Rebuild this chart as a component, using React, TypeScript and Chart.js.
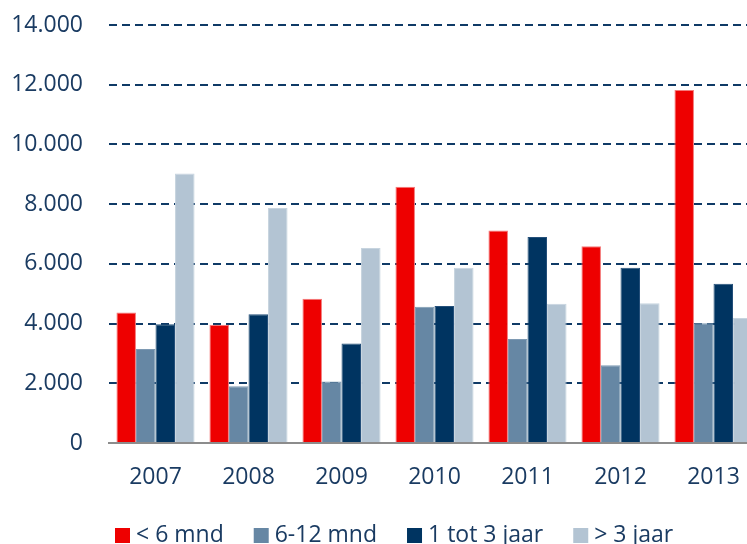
import React, { useEffect, useRef } from "react";
import { Chart, registerables } from "chart.js";

Chart.register(...registerables);

const categories = ["2007", "2008", "2009", "2010", "2011", "2012", "2013"];
const seriesNames = ["< 6 mnd", "6-12 mnd", "1 tot 3 jaar", "> 3 jaar"];
const lt6 = [4370, 3960, 4830, 8580, 7120, 6590, 11820];
const m6to12 = [3150, 1900, 2060, 4560, 3480, 2600, 4010];
const y1to3 = [3980, 4310, 3330, 4590, 6900, 5870, 5330];
const gt3 = [9030, 7870, 6530, 5870, 4660, 4680, 4190];
const yTicks = [0, 2000, 4000, 6000, 8000, 10000, 12000, 14000];

const colors = ["#EE0000", "#6687A4", "#003461", "#B3C4D3"];
const borders = ["#F47A7A", "#7E9AB3", "#25507A", "#C7D4DF"];
const textColor = "#1A3B62";
const FONT = "'Open Sans', 'Noto Sans', sans-serif";

const fmt = (v: number) => String(v).replace(/\B(?=(\d{3})+(?!\d))/g, ".");

const legendPlugin = {
  id: "customLegend",
  afterDraw(chart: any) {
    const ctx = chart.ctx;
    ctx.save();
    ctx.font = `23px ${FONT}`;
    ctx.textBaseline = "middle";
    ctx.textAlign = "left";
    const cy = 535.5;
    let x = 115;
    chart.data.datasets.forEach((ds: any) => {
      ctx.fillStyle = ds.backgroundColor;
      ctx.fillRect(x, cy - 7.5, 15, 15);
      ctx.fillStyle = textColor;
      ctx.fillText(ds.label, x + 21, cy);
      x += 21 + ctx.measureText(ds.label).width + 30;
    });
    ctx.restore();
  },
};

export default function App() {
  const ref = useRef<HTMLCanvasElement | null>(null);
  useEffect(() => {
    if (!ref.current) return;
    const data = [lt6, m6to12, y1to3, gt3];
    const chart = new Chart(ref.current, {
      type: "bar",
      data: {
        labels: categories,
        datasets: seriesNames.map((n, i) => ({
          label: n,
          data: data[i],
          backgroundColor: colors[i],
          borderColor: borders[i],
          borderWidth: 1,
          categoryPercentage: 0.84,
          barPercentage: 1.0,
        })),
      },
      options: {
        animation: false,
        responsive: true,
        maintainAspectRatio: false,
        layout: { padding: { top: 25, left: 0, right: 2, bottom: 63 } },
        plugins: {
          tooltip: { enabled: false },
          legend: { display: false },
        },
        scales: {
          x: {
            grid: { display: false, drawTicks: false },
            border: { display: true, color: "#8C8C8C", width: 2 },
            ticks: { color: textColor, font: { family: FONT, size: 23 }, padding: 21 },
            afterFit: (axis: any) => {
              axis.height = 59;
              axis.paddingLeft = 0;
              axis.paddingRight = 0;
            },
          },
          y: {
            min: 0,
            max: 14000,
            afterBuildTicks: (axis: any) => {
              axis.ticks = yTicks.map((v) => ({ value: v }));
            },
            afterFit: (axis: any) => {
              axis.width = 109;
              axis.paddingTop = 0;
              axis.paddingBottom = 0;
            },
            grid: {
              color: (ctx: any) => (ctx.tick && ctx.tick.value === 0 ? "rgba(0,0,0,0)" : "#0F3A66"),
              lineWidth: 2,
              drawTicks: false,
            },
            border: { display: false, dash: [8, 5] },
            ticks: {
              color: textColor,
              font: { family: FONT, size: 23 },
              padding: 26,
              callback: (v: any) => fmt(Number(v)),
            },
          },
        },
      },
      plugins: [legendPlugin],
    } as any);
    return () => chart.destroy();
  }, []);
  return (
    <div style={{ position: "fixed", left: 0, top: 0, width: 747, height: 544, overflow: "hidden", background: "#fff" }}>
      <div style={{ position: "absolute", left: 0, top: 0, width: 762, height: 565 }}>
        <canvas ref={ref} />
      </div>
    </div>
  );
}
